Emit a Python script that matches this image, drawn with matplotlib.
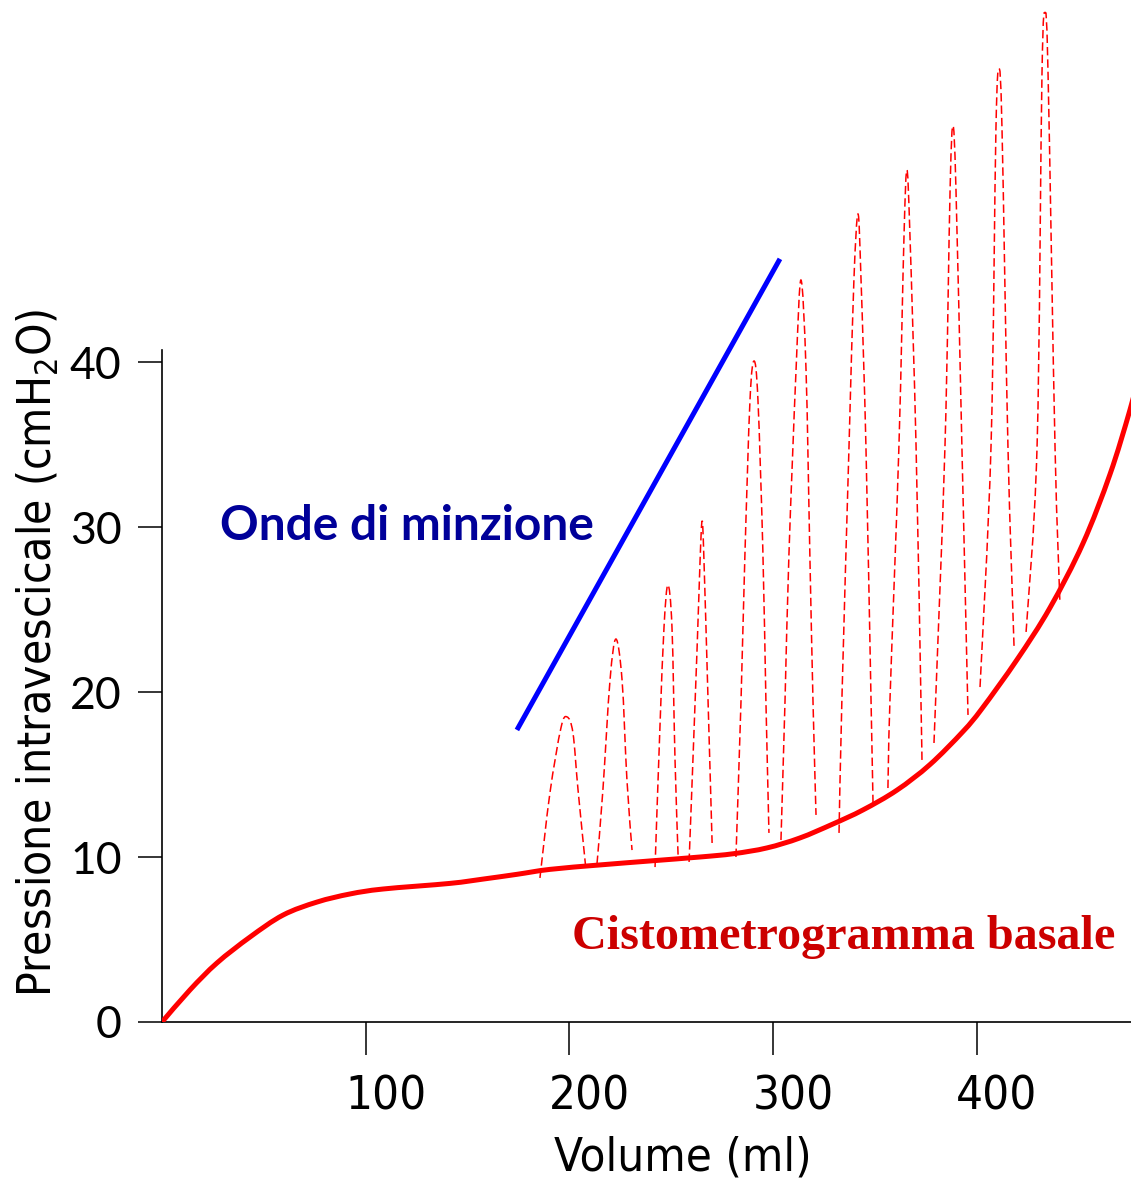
import matplotlib
matplotlib.use("Agg")
import matplotlib.pyplot as plt
import matplotlib.transforms as mtransforms
from matplotlib.path import Path
from matplotlib.patches import PathPatch
import numpy as np

# basal cystometrogram (volume ml, pressure cmH2O)
basal_vol = [0, 13.7, 27.0, 43.2, 59.4, 76.1, 92.3, 108.5, 141.3, 157.5, 174.2, 190.4,
             215.0, 239.5, 264.0, 280.5, 296.9, 313.0, 329.3, 344.0, 360.7, 376.9, 393.1,
             402.5, 419.6, 435.8, 452.0, 465.3, 475.1, 482.5]
basal_p = [0, 1.94, 3.58, 5.15, 6.48, 7.27, 7.76, 8.06, 8.40, 8.66, 8.95, 9.25,
           9.52, 9.76, 10.0, 10.2, 10.55, 11.15, 12.0, 12.85, 14.05, 15.6, 17.6,
           19.0, 21.95, 25.1, 29.0, 33.2, 37.1, 40.5]

# micturition waves, one list per wave
wave_vol = [
    [185.5, 190.4, 195.8, 198.8, 201.7, 204.2, 208.1],
    [213.5, 216.4, 219.9, 222.8, 225.8, 228.2, 230.7],
    [242.0, 244.4, 246.4, 248.3, 250.3, 251.8, 253.3],
    [258.7, 262.6, 264.1, 265.1, 266.0, 268.0, 270.0],
    [281.7, 284.2, 286.1, 288.6, 290.6, 292.5, 294.9, 296.4, 297.9],
    [303.8, 305.8, 307.7, 311.2, 313.6, 316.1, 318.0, 319.5, 321.0],
    [332.3, 333.7, 337.2, 339.6, 341.6, 343.1, 345.5, 348.0, 349.0],
    [356.3, 357.3, 361.7, 364.2, 365.6, 367.1, 370.1, 372.5, 373.0],
    [378.9, 384.3, 386.8, 388.2, 389.7, 392.6, 395.6],
    [401.5, 406.9, 409.3, 410.8, 412.3, 415.2, 418.2],
    [424.1, 429.5, 431.9, 433.4, 434.9, 438.3, 440.7],
]
wave_p = [
    [8.73, 13.88, 17.82, 18.49, 17.52, 14.06, 9.21],
    [9.58, 14.06, 20.73, 23.21, 20.73, 14.67, 10.42],
    [9.39, 17.88, 23.94, 26.49, 23.94, 15.88, 10.12],
    [9.70, 22.55, 28.0, 30.37, 28.0, 19.52, 10.85],
    [10.0, 19.52, 28.30, 37.70, 40.06, 37.70, 28.61, 19.52, 11.46],
    [11.03, 19.52, 28.30, 39.52, 44.97, 39.52, 28.18, 19.52, 12.55],
    [11.46, 19.52, 34.91, 44.97, 48.97, 44.97, 34.91, 19.52, 13.15],
    [14.18, 19.52, 34.91, 47.70, 51.64, 47.70, 34.91, 19.52, 15.88],
    [16.91, 34.91, 50.43, 54.31, 50.43, 34.91, 18.61],
    [20.30, 34.91, 54.06, 57.76, 54.06, 34.91, 22.73],
    [23.64, 34.91, 57.40, 61.16, 57.40, 34.91, 25.46],
]

# trend line of wave peaks
trend_vol = [174.2, 303.3]
trend_p = [17.70, 46.25]

x_ticks = [100, 200, 300, 400]
y_ticks = [0, 10, 20, 30, 40]

NARROW = dict(family=["DejaVu Sans"], fontstretch="condensed")


def smooth_path(xs, ys):
    # catmull-rom through the read points, drawn as bezier segments
    pts = np.column_stack([xs, ys]).astype(float)
    p = np.vstack([pts[0], pts, pts[-1]])
    verts = [pts[0]]
    codes = [Path.MOVETO]
    for i in range(1, len(p) - 2):
        p0, p1, p2, p3 = p[i - 1], p[i], p[i + 1], p[i + 2]
        verts += [p1 + (p2 - p0) / 6, p2 - (p3 - p1) / 6, p2]
        codes += [Path.CURVE4] * 3
    return Path(verts, codes)


fig = plt.figure(figsize=(11.31, 11.82), dpi=100)
ax = fig.add_axes([162 / 1131, 160 / 1182, 969 / 1131, 1022 / 1182])
ax.set_xlim(0, 475.6)
ax.set_ylim(0, 61.94)

for xs, ys in zip(wave_vol, wave_p):
    ax.add_patch(PathPatch(smooth_path(xs, ys), fill=False, edgecolor="#ff0000",
                           linewidth=1.1, linestyle=(0, (5.5, 2.6)), zorder=2))

ax.add_patch(PathPatch(smooth_path(basal_vol, basal_p), fill=False, edgecolor="#ff0000",
                       linewidth=3.6, capstyle="butt", zorder=3))
ax.plot(trend_vol, trend_p, color="#0000ff", linewidth=3.6, solid_capstyle="butt", zorder=3)

ax.text(28.5, 29.2, "Onde di minzione", color="#000099", fontsize=34.5,
        fontweight="bold", family="Lato", va="baseline", ha="left")
ax.text(201.2, 4.45, "Cistometrogramma basale", color="#cc0000", fontsize=34.7,
        fontweight="bold", family="Liberation Serif", va="baseline", ha="left")

for side in ("top", "right"):
    ax.spines[side].set_visible(False)
for side in ("left", "bottom"):
    ax.spines[side].set_linewidth(1.2)
ax.spines["left"].set_bounds(0, 40.7)

ax.set_xticks(x_ticks)
ax.set_xticklabels([str(v) for v in x_ticks], fontsize=34, **NARROW)
ax.set_yticks(y_ticks)
ax.set_yticklabels([str(v) for v in y_ticks], family="Lato", fontsize=32)
ax.tick_params(axis="x", direction="out", length=24, width=1.1, pad=14)
ax.tick_params(axis="y", direction="out", length=17, width=1.1, pad=12)

shift = mtransforms.ScaledTranslation(0.2, 0, fig.dpi_scale_trans)
for lab in ax.get_xticklabels():
    lab.set_transform(lab.get_transform() + shift)

fig.text(683 / 1131, 1 - 1158 / 1182, "Volume (ml)", fontsize=34,
         ha="center", va="center", **NARROW)
fig.text(38 / 1131, 1 - 653 / 1182, r"Pressione intravescicale (cmH$_\mathregular{2}$O)",
         fontsize=33, rotation=90, ha="center", va="center", **NARROW)

fig.savefig("out.png", dpi=100)
